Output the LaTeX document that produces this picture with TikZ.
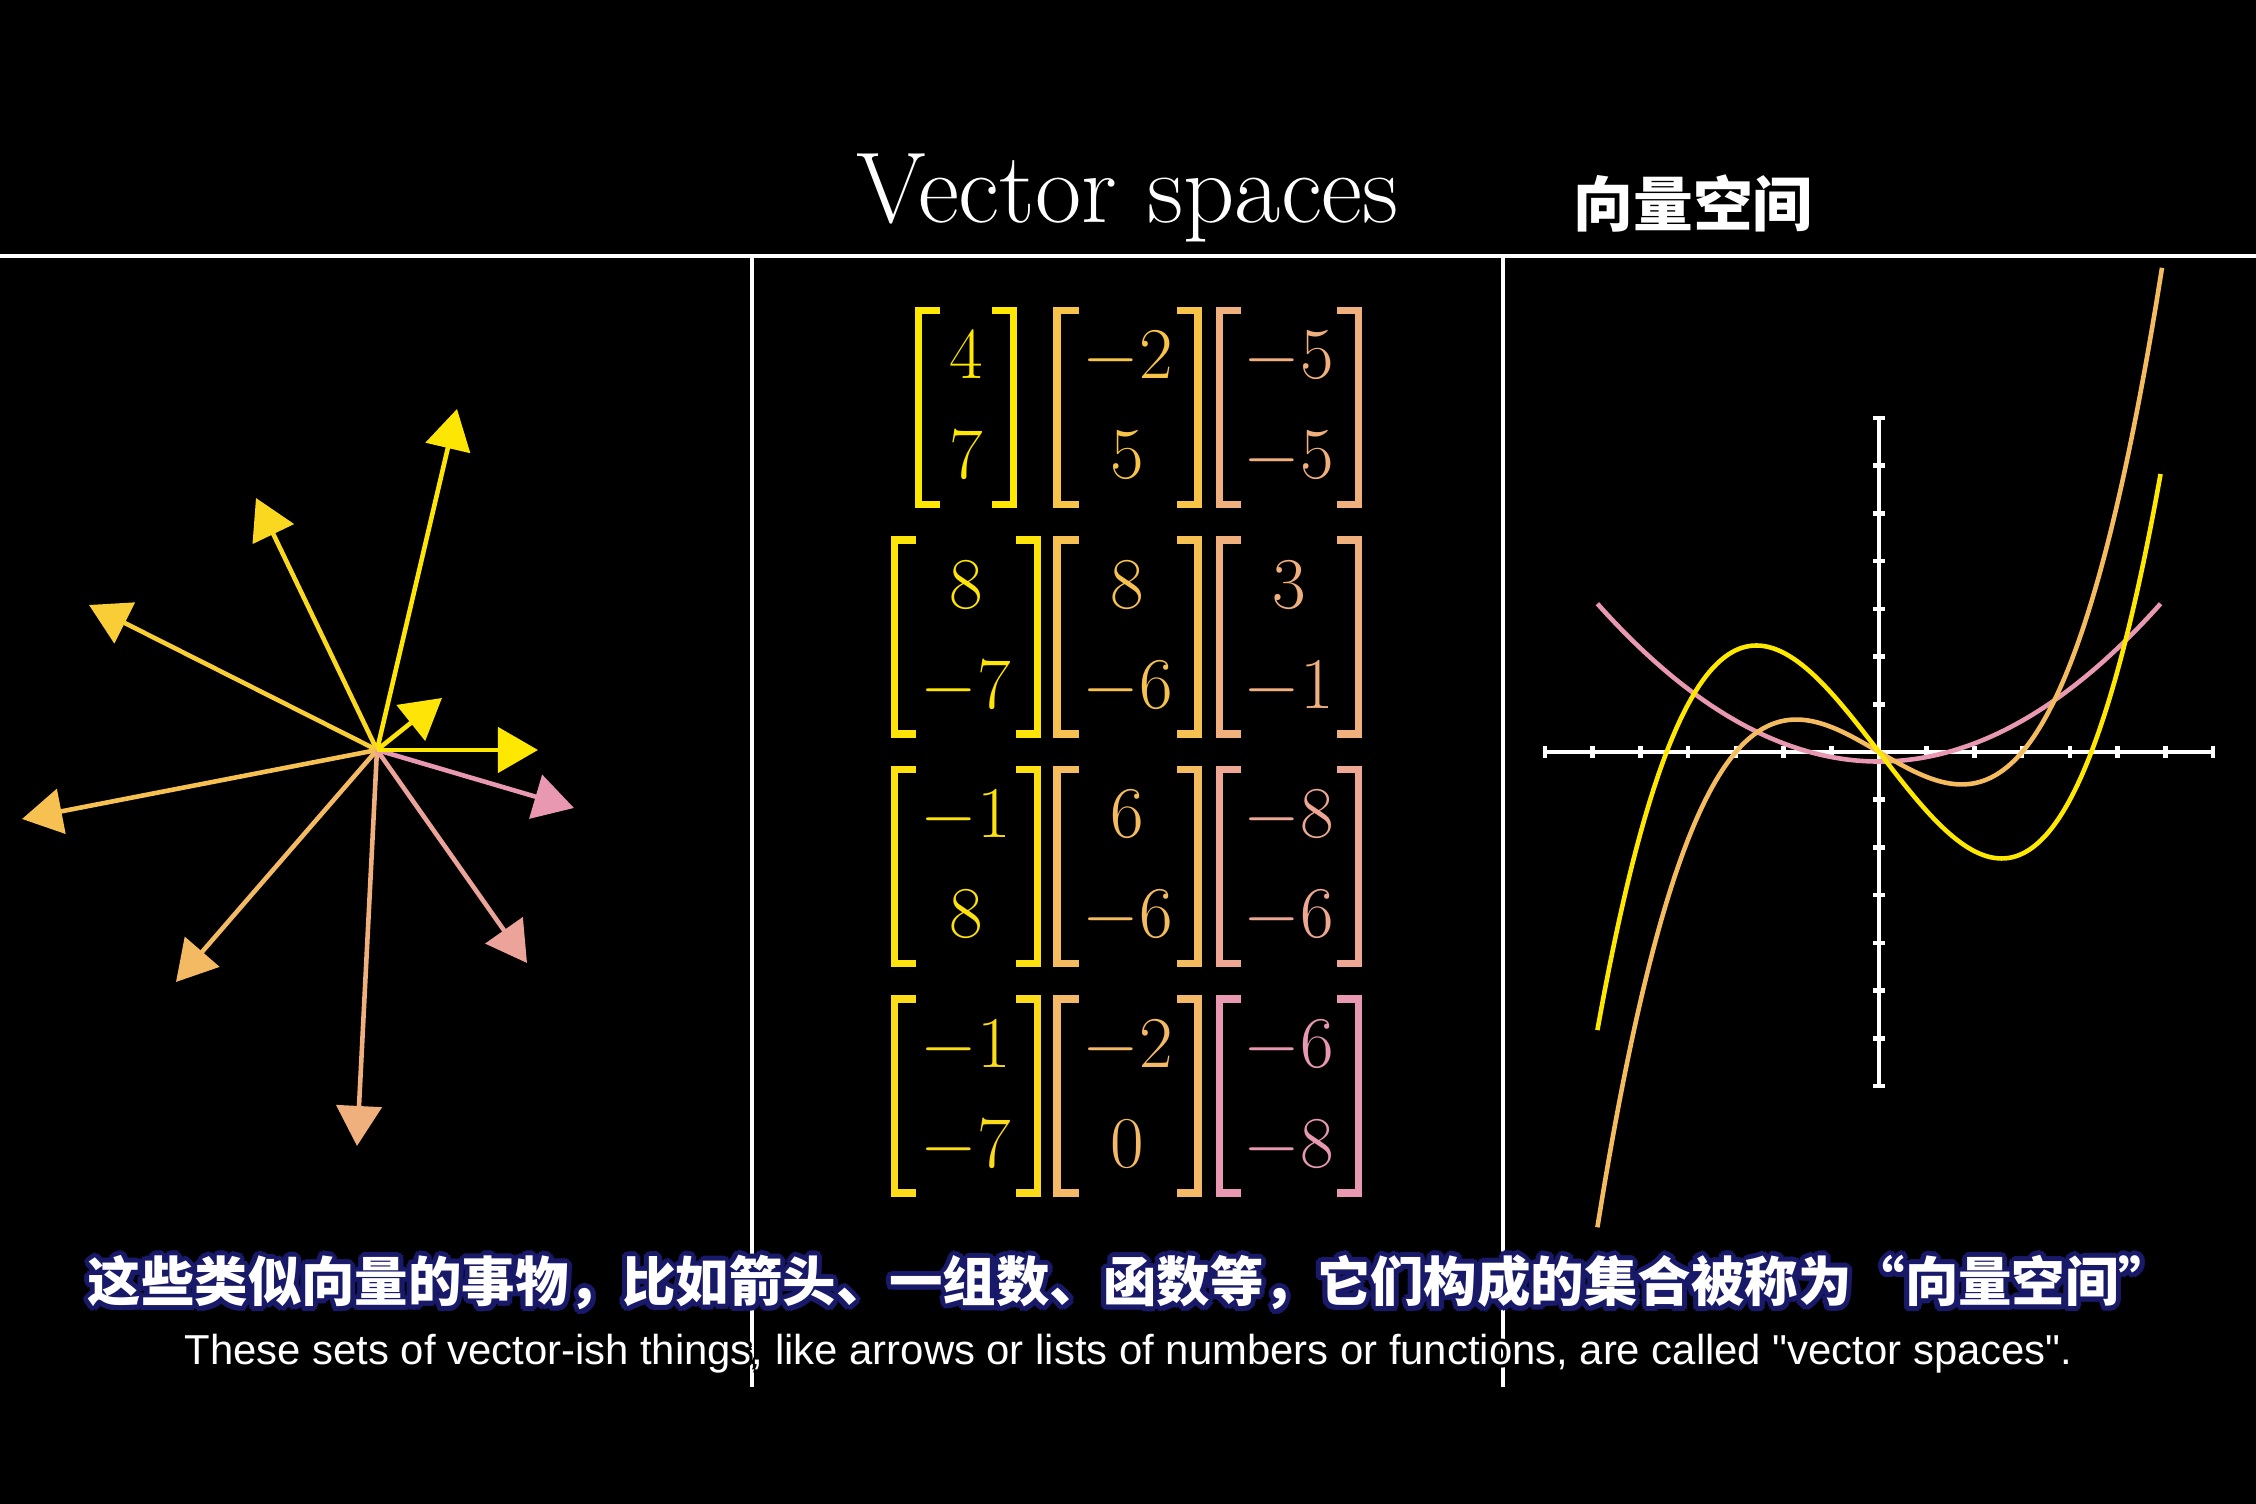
\documentclass[tikz,border=0pt]{standalone}
\usepackage{fontspec}
\newfontfamily\cjk{Noto Sans CJK SC}
\newfontfamily\subfont{Liberation Sans}
\usetikzlibrary{arrows.meta}
\definecolor{vyellow}{RGB}{255,232,0}
\definecolor{vgold}{RGB}{247,196,72}
\definecolor{vpeach}{RGB}{240,176,126}
\definecolor{vpink}{RGB}{232,152,176}
\definecolor{subnavy}{RGB}{25,25,105}
\newcommand{\subcn}{这些类似向量的事物，比如箭头、一组数、函数等，它们构成的集合被称为“向量空间”}
\newcommand{\suben}{These sets of vector-ish things, like arrows or lists of numbers or functions, are called "vector spaces".}

\begin{document}
\begin{tikzpicture}[x=0.01cm, y=-0.01cm,
    every node/.style={inner sep=0pt},
    rule/.style={draw=white, line width=1.1pt},
    title/.style={anchor=base, text=white, font=\fontsize{28.6}{32}\selectfont},
    cntitle/.style={anchor=base, text=white, font=\cjk\bfseries\fontsize{17}{20}\selectfont},
    entry/.style={anchor=base, font=\fontsize{19.6}{22}\selectfont},
    brk/.style={line width=2pt, line join=miter},
    vec/.style={line width=1.3pt, -{Triangle[length=0.4cm, width=0.45cm]}},
    axis/.style={white, line width=0.9pt},
    tick/.style={white, line width=1.3pt},
    curve/.style={line width=1.3pt},
    cnsub/.style={anchor=base, font=\cjk\bfseries\fontsize{15.2}{18}\selectfont},
    ensub/.style={anchor=base, font=\subfont\fontsize{11.9}{14}\selectfont}
  ]
  \fill[black] (0,0) rectangle (2256,1504);
  \useasboundingbox (0,0) rectangle (2256,1504);

  % header and panels
  \node[title] (ttl) at (1127.5,223) {Vector spaces};
  \node[cntitle] (ttlcn) at (1693,227) {向量空间};
  \draw[rule] (0,256) -- (2256,256);
  \draw[rule, line width=1pt] (752,256) -- (752,1387);
  \draw[rule, line width=1pt] (1503,256) -- (1503,1387);

  % arrows
  \coordinate (o) at (377,750);
  \foreach \tx/\ty/\vc [count=\i] in {457/409/vyellow!95!vgold, 256/498/vyellow!55!vgold,
      89/605/vyellow!25!vgold, 22/819/vgold!85!vpeach, 176/982/vgold!50!vpeach,
      357/1146/vpeach, 527/963/vpeach!45!vpink, 574/808/vpink,
      538/750/vyellow, 442/698/vyellow!90!vgold} {
    \coordinate (tip\i) at (\tx,\ty);
    \draw[vec, \vc] (o) -- (tip\i);
  }

  % lists of numbers
  \foreach \ri/\ci/\hw/\mc/\ta/\tb in {1/1/51/vyellow/4/7, 1/2/74/vgold/-2/5, 1/3/73/vpeach/-5/-5,
      2/1/75/vyellow!90!vgold/8/-7, 2/2/74/vgold!85!vpeach/8/-6, 2/3/73/vpeach/3/-1,
      3/1/75/vyellow!80!vgold/-1/8, 3/2/74/vgold!60!vpeach/6/-6, 3/3/73/vpeach!60!vpink/-8/-6,
      4/1/75/vyellow!65!vgold/-1/-7, 4/2/74/vgold!45!vpeach/-2/0, 4/3/73/vpink/-6/-8} {
    \pgfmathsetmacro\cx{966+(\ci-1)*161.5}
    \pgfmathsetmacro\yt{307+(\ri-1)*229.5}
    \draw[brk, \mc] (\cx-\hw+25,\yt+3.5) -- (\cx-\hw+3.5,\yt+3.5) -- (\cx-\hw+3.5,\yt+197.5) -- (\cx-\hw+25,\yt+197.5);
    \draw[brk, \mc] (\cx+\hw-25,\yt+3.5) -- (\cx+\hw-3.5,\yt+3.5) -- (\cx+\hw-3.5,\yt+197.5) -- (\cx+\hw-25,\yt+197.5);
    \node[entry, text=\mc] (e\ri\ci-t) at (\cx,\yt+72) {$\ta$};
    \node[entry, text=\mc] (e\ri\ci-b) at (\cx,\yt+172) {$\tb$};
  }

  % functions
  \coordinate (go) at (1879,752);
  \begin{scope}[shift={(go)}, x=0.477cm, y=0.477cm]
    \draw[axis] (-7,0) -- (7,0);
    \draw[axis] (0,-7) -- (0,7);
    \foreach \k in {-7,...,-1,1,2,...,7} {
      \draw[tick] (\k,-0.12) -- (\k,0.12);
      \draw[tick] (-0.12,\k) -- (0.12,\k);
    }
    \draw[curve, vpink] plot[domain=-5.9:5.9, samples=100, smooth] (\x,{0.095*\x*\x-0.2});
    \draw[curve, vgold!60!vpeach] plot[domain=-5.9:5.93, samples=100, smooth] (\x,{0.0654*\x*(\x*\x-9)});
    \draw[curve, vyellow] plot[domain=-5.9:5.9, samples=100, smooth] (\x,{0.0658*\x*(\x*\x-19.8)});
  \end{scope}

  % subtitles
  \coordinate (cnbase) at (1130,1302);
  \foreach \a in {0,30,...,330}
    \path (cnbase) ++(\a:5) node[cnsub, text=subnavy] (cnrim\a) {\subcn};
  \node[cnsub, text=white] (cnsub) at (cnbase) {\subcn};
  \coordinate (enbase) at (1128.5,1365);
  \foreach \a in {0,45,...,315}
    \path (enbase) ++(\a:3) node[ensub, text=black] (enrim\a) {\suben};
  \node[ensub, text=white] (ensub) at (enbase) {\suben};
\end{tikzpicture}
\end{document}
